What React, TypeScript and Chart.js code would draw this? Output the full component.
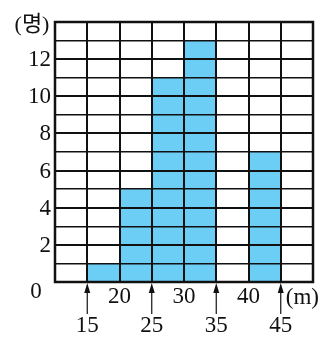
import React, { useEffect, useRef } from "react";
import { Chart, registerables } from "chart.js";

Chart.register(...registerables);

const categories = ["10~15", "15~20", "20~25", "25~30", "30~35", "35~40", "40~45", "45~50"];
const counts = [0, 1, 5, 11, 13, 0, 7, 0];
const yTickLabels = [2, 4, 6, 8, 10, 12];
const xTopLabels = [20, 30, 40];
const xArrowLabels = [15, 25, 35, 45];
const firstBoundary = 10;
const classWidth = 5;
const yUnit = "(명)";
const xUnit = "(m)";

const FONT = "23px 'Liberation Serif', 'Noto Sans CJK KR', serif";

const labelsPlugin = {
  id: "customLabels",
  afterDraw(chart: any) {
    const ctx = chart.ctx;
    const xs = chart.scales.x;
    const ys = chart.scales.y;
    const area = chart.chartArea;
    const bx = (b: number) => xs.getPixelForValue((b - firstBoundary) / classWidth - 0.5);
    const bottom = ys.getPixelForValue(0);
    ctx.save();
    ctx.strokeStyle = "#111";
    ctx.lineWidth = 2.5;
    ctx.strokeRect(area.left, area.top, area.right - area.left, area.bottom - area.top);
    ctx.fillStyle = "#111";
    ctx.font = FONT;
    ctx.textAlign = "right";
    ctx.textBaseline = "middle";
    yTickLabels.forEach((v) => {
      ctx.fillText(String(v), xs.left - 4, ys.getPixelForValue(v) + 1);
    });
    ctx.textAlign = "center";
    ctx.fillText("0", xs.left - 19, bottom + 10);
    ctx.font = "22px 'Liberation Serif', 'Noto Sans CJK KR', serif";
    ctx.fillText(yUnit, xs.left - 23, ys.top + 3);
    ctx.font = FONT;
    xTopLabels.forEach((v) => {
      ctx.fillText(String(v), bx(v), bottom + 15);
    });
    xArrowLabels.forEach((v) => {
      const x = bx(v);
      ctx.lineWidth = 1.2;
      ctx.beginPath();
      ctx.moveTo(x, bottom + 8);
      ctx.lineTo(x, bottom + 32);
      ctx.stroke();
      ctx.beginPath();
      ctx.moveTo(x, bottom + 1);
      ctx.lineTo(x - 3, bottom + 11);
      ctx.lineTo(x + 3, bottom + 11);
      ctx.closePath();
      ctx.fill();
      ctx.fillText(String(v), x, bottom + 44);
    });
    ctx.textAlign = "left";
    ctx.fillText(xUnit, bx(45) + 5, bottom + 16);
    ctx.restore();
  },
};

export default function App() {
  const ref = useRef<HTMLCanvasElement | null>(null);
  useEffect(() => {
    document.body.style.margin = "0";
    const chart = new Chart(ref.current as HTMLCanvasElement, {
      type: "bar",
      data: {
        labels: categories,
        datasets: [
          {
            data: counts,
            backgroundColor: "#6ccef5",
            borderWidth: 0,
            barPercentage: 1,
            categoryPercentage: 1,
          },
        ],
      },
      options: {
        animation: false,
        responsive: false,
        layout: { padding: { left: 55, right: 19, top: 22, bottom: 73 } },
        plugins: { legend: { display: false }, tooltip: { enabled: false } },
        scales: {
          x: {
            ticks: { display: false },
            grid: { z: 1, color: "#111", lineWidth: 2, drawTicks: false, offset: true },
            border: { display: false },
          },
          y: {
            min: 0,
            max: 14,
            ticks: { display: false, stepSize: 1 },
            grid: {
              z: 1,
              color: "#111",
              lineWidth: (c: any) => (c.tick && c.tick.value % 2 === 0 ? 2 : 1.4),
              drawTicks: false,
            },
            border: { display: false },
          },
        },
      },
      plugins: [labelsPlugin],
    });
    return () => chart.destroy();
  }, []);
  return (
    <div style={{ position: "absolute", left: 0, top: 0, width: 332, height: 355 }}>
      <canvas ref={ref} width={332} height={355} />
    </div>
  );
}
